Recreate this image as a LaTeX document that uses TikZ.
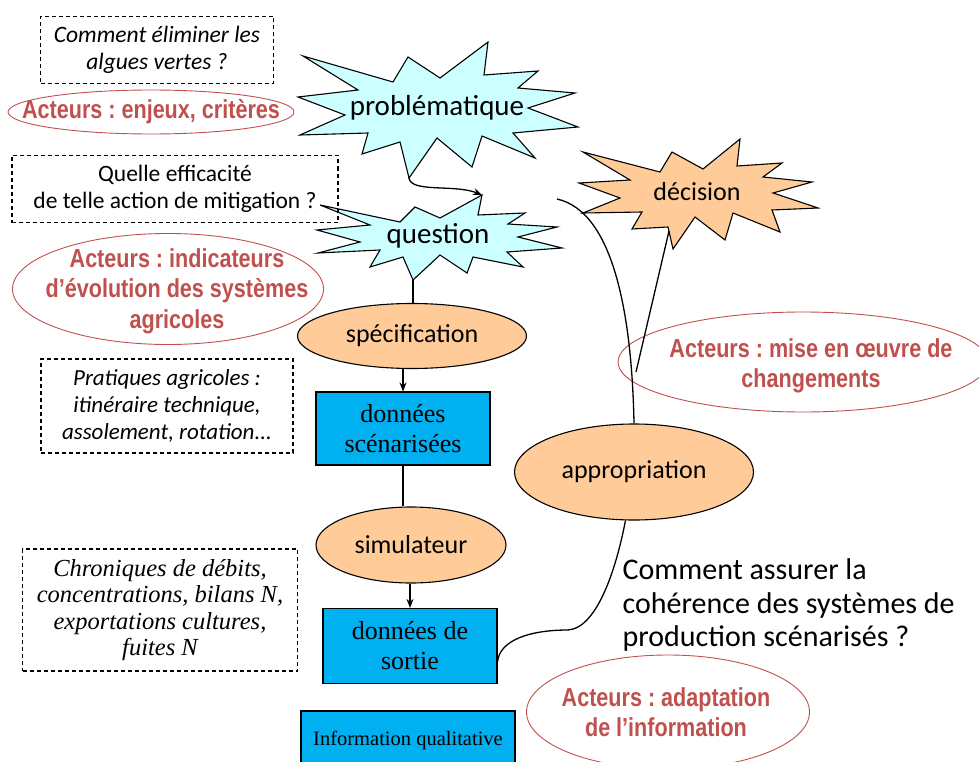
\documentclass[tikz,border=0pt]{standalone}
\usepackage{fontspec}
\setmainfont{Carlito}
\newfontfamily\timesfont{Liberation Serif}
\newfontfamily\acteursfont[FakeStretch=0.83]{Liberation Sans}
\usetikzlibrary{shapes.geometric, arrows.meta}
\definecolor{cyanstar}{HTML}{CCFFFF}
\definecolor{orangefill}{HTML}{FFCC99}
\definecolor{bluebox}{HTML}{00B0F0}
\definecolor{acteurred}{HTML}{C0504D}
\frenchspacing

\begin{document}
\begin{tikzpicture}[
                        x = 1pt, y = -1pt,
                        > = {Stealth[length = 9pt, width = 7pt]},
                        line width = 1.3pt
                        ]

                        \tikzstyle{dashbox}=[
                                draw = black,
                                line width = 1.1pt,
                                dash pattern = on 4pt off 3pt,
                                align = center,
                                inner sep = 0pt
                        ]
                        \tikzstyle{acteur}=[
                                ellipse,
                                draw = acteurred,
                                line width = 0.9pt,
                                inner sep = 0pt
                        ]
                        \tikzstyle{acteurtexte}=[
                                align = center,
                                inner sep = 0pt,
                                text = acteurred,
                                font = \acteursfont\bfseries\fontsize{26}{30.5}\selectfont
                        ]
                        \tikzstyle{etape}=[
                                ellipse,
                                draw = black,
                                fill = orangefill,
                                line width = 1.1pt,
                                inner sep = 0pt,
                                font = \fontsize{26}{30}\selectfont
                        ]
                        \tikzstyle{donnees}=[
                                rectangle,
                                draw = black,
                                fill = bluebox,
                                line width = 1.1pt,
                                inner sep = 0pt,
                                align = center,
                                font = \timesfont\fontsize{26}{30}\selectfont
                        ]
                        \tikzstyle{burst}=[
                                draw = black,
                                line width = 1.1pt
                        ]

                        \clip (0,0) rectangle (979,762);

                        % etoiles
                        \draw[burst, fill = cyanstar] (303,56) -- (393,82) -- (408,57) -- (440,78) -- (488,42) -- (484,75)
                                -- (538,71) -- (518,88) -- (575,93) -- (528,108) -- (578,127) -- (513,133)
                                -- (535,158) -- (482,136) -- (472,167) -- (437,138) -- (409,178) -- (400,142)
                                -- (362,154) -- (368,133) -- (300,135) -- (345,115) -- (298,97) -- (358,90) -- cycle;
                        \draw[burst, fill = cyanstar] (482,195) -- (478,215) -- (525,213) -- (508,224) -- (557,227) -- (518,237)
                                -- (562,248) -- (507,252) -- (523,267) -- (473,257) -- (467,273) -- (440,255)
                                -- (413,280) -- (403,257) -- (370,267) -- (380,250) -- (318,253) -- (360,242)
                                -- (317,230) -- (370,225) -- (320,205) -- (400,222) -- (415,207) -- (440,218) -- cycle;
                        \draw[burst, fill = orangefill] (583,152) -- (660,172) -- (672,152) -- (703,169) -- (740,139) -- (737,166)
                                -- (782,163) -- (763,177) -- (812,182) -- (773,193) -- (818,208) -- (772,210)
                                -- (780,232) -- (733,213) -- (725,240) -- (695,217) -- (673,249) -- (668,227)
                                -- (632,229) -- (642,212) -- (583,213) -- (620,198) -- (579,183) -- (630,180) -- cycle;

                        \node (probl) at (437,108) {\fontsize{29}{32}\selectfont probl\'ematique};
                        \node (quest) at (438,236) {\fontsize{29}{32}\selectfont question};
                        \node (decis) at (697,192) {\fontsize{26}{30}\selectfont d\'ecision};

                        \coordinate (probl-tip) at (409,178);
                        \coordinate (quest-top) at (482,195);
                        \coordinate (quest-tip) at (413,280);
                        \coordinate (decis-left) at (557,199);
                        \coordinate (decis-bas) at (669,231);
                        \coordinate (oeuvre-pt) at (636,372);

                        % encadres en pointilles
                        \node[dashbox, minimum width = 233, minimum height = 67,
                                font = \itshape\fontsize{23.5}{26.5}\selectfont] (algues) at (157,50)
                                {Comment \'eliminer les\\algues vertes ?};
                        \node[dashbox, minimum width = 326, minimum height = 67,
                                font = \fontsize{23.5}{27}\selectfont] (efficacite) at (175,189)
                                {Quelle efficacit\'e\\de telle action de mitigation ?};
                        \node[dashbox, minimum width = 252, minimum height = 94,
                                font = \itshape\fontsize{23}{27}\selectfont] (pratiques) at (167,406)
                                {Pratiques agricoles :\\itin\'eraire technique,\\assolement, rotation...};
                        \node[dashbox, minimum width = 275, minimum height = 122,
                                font = \timesfont\itshape\fontsize{24.5}{26.5}\selectfont] (chroniques) at (160,610)
                                {Chroniques de d\'ebits,\\concentrations, bilans N,\\exportations cultures,\\fuites N};

                        % acteurs
                        \node[acteur, minimum width = 286, minimum height = 44] (enjeux) at (151,112) {};
                        \node[acteurtexte] (enjeux-txt) at (151,112) {Acteurs : enjeux, crit\`eres};
                        \node[acteur, minimum width = 311, minimum height = 111] (indicateurs) at (168,289) {};
                        \node[acteurtexte] (indicateurs-txt) at (177,291)
                                {Acteurs : indicateurs\\d’\'evolution des syst\`emes\\agricoles};
                        \node[acteur, minimum width = 370, minimum height = 100] (oeuvre) at (803,362) {};
                        \node[acteurtexte] (oeuvre-txt) at (811,366) {Acteurs : mise en \oe uvre de\\changements};
                        \node[acteur, minimum width = 283, minimum height = 114] (adapt) at (668,712) {};
                        \node[acteurtexte] (adapt-txt) at (666,712) {Acteurs : adaptation\\de l’information};

                        % chaine de modelisation
                        \node[etape, minimum width = 229, minimum height = 65] (specif) at (412,336) {sp\'ecification};
                        \node[donnees, minimum width = 174, minimum height = 73] (scen) at (403,428.5)
                                {donn\'ees\\sc\'enaris\'ees};
                        \node[etape, minimum width = 190, minimum height = 76] (simul) at (411,545) {simulateur};
                        \node[donnees, minimum width = 174, minimum height = 75] (sortie) at (410,646)
                                {donn\'ees de\\sortie};
                        \node[donnees, minimum width = 214, minimum height = 58,
                                font = \timesfont\fontsize{20.5}{23}\selectfont] (info) at (408,740)
                                {Information qualitative};
                        \node[etape, minimum width = 239, minimum height = 96] (approp) at (634,472) {appropriation};

                        \node[anchor = west, align = left, inner sep = 0pt,
                                font = \fontsize{30}{33.5}\selectfont] (coherence) at (622,605)
                                {Comment assurer la\\coh\'erence des syst\`emes de\\production sc\'enaris\'es ?};

                        % liens
                        \draw[->] (probl-tip) .. controls (411,193) and (455,184) .. (quest-top);
                        \draw (quest-tip) -- (quest-tip |- specif.north);
                        \draw[->] (scen.north |- specif.south) -- (scen.north);
                        \draw (scen.south) -- (scen.south |- simul.north);
                        \draw[->] (sortie.north |- simul.south) -- (sortie.north);
                        \draw (sortie.-10) .. controls (500,640) and (530,630) .. (568,630)
                                .. controls (598,628) and (617,565) .. (approp.-100);
                        \draw (approp.north) .. controls (632,320) and (615,212) .. (decis-left);
                        \draw (oeuvre-pt) -- (decis-bas);
\end{tikzpicture}
\end{document}
